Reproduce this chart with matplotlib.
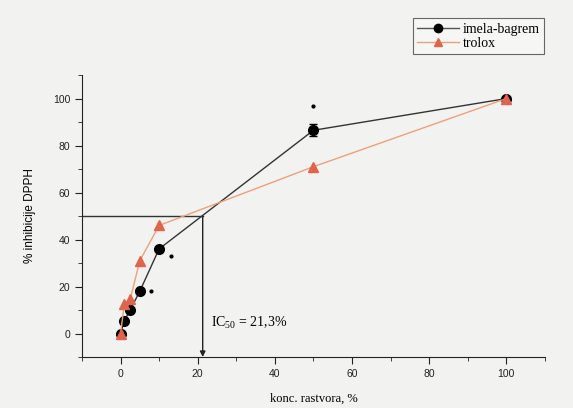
import matplotlib.pyplot as plt
from matplotlib.ticker import MultipleLocator
from matplotlib.lines import Line2D

# data
conc = [0, 1, 2.5, 5, 10, 50, 100]
imela = [0, 5.5, 10, 18, 36, 86.5, 100]
imela_err = [0, 0, 0, 0, 0, 2.5, 0]
trolox = [0, 12.5, 14.5, 31, 46, 71, 100]
ic50 = 21.3
star_x = [8, 13, 50]
star_y = [18, 33, 97]

plt.rcParams['font.family'] = ['Liberation Sans', 'DejaVu Sans']
plt.rcParams['mathtext.fontset'] = 'custom'
plt.rcParams['mathtext.rm'] = 'Liberation Serif'
plt.rcParams['mathtext.it'] = 'Liberation Serif:italic'
serif = 'Liberation Serif'

fig = plt.figure(figsize=(5.73, 4.08), dpi=100)
fig.patch.set_facecolor('#f2f2f0')
ax = fig.add_axes([0.143, 0.125, 0.808, 0.691])
ax.set_facecolor('#f2f2f0')

ax.errorbar(conc, imela, yerr=imela_err, color='#333333', lw=1.0, marker='o', ms=7,
            mfc='black', mec='black', ecolor='black', capsize=3, elinewidth=0.8,
            zorder=3)
ax.plot(conc, trolox, color='#eba27a', lw=1.0, marker='^', ms=7,
        mfc='#e0644c', mec='#e0644c', zorder=4)

ax.plot(star_x, star_y, 'k.', ms=4)

# IC50 guide lines
ax.plot([-10, ic50], [50, 50], color='#333333', lw=1.0, zorder=2)
ax.annotate('', xy=(ic50, -10), xytext=(ic50, 50),
            arrowprops=dict(arrowstyle='-|>', color='#222222', lw=1.0,
                            mutation_scale=8, shrinkA=0, shrinkB=0))
ax.text(23.5, 4.5, r'IC$_{\mathrm{50}}$ = 21,3%', family=serif, fontsize=10, va='center')

ax.set_xlim(-10, 110)
ax.set_ylim(-10, 110)
ax.xaxis.set_minor_locator(MultipleLocator(10))
ax.yaxis.set_minor_locator(MultipleLocator(10))
ax.set_xticks([0, 20, 40, 60, 80, 100])
ax.set_yticks([0, 20, 40, 60, 80, 100])
ax.tick_params(which='both', direction='out', labelsize=7.5, colors='#222222')
ax.tick_params(which='major', length=5)
ax.tick_params(which='minor', length=3)
for s in ['top', 'right']:
    ax.spines[s].set_visible(False)
for s in ['left', 'bottom']:
    ax.spines[s].set_color('#222222')

ax.set_xlabel('konc. rastvora, %', family=serif, fontsize=9, labelpad=10)
ax.set_ylabel('% inhibicije DPPH', fontsize=8.5, labelpad=12)

handles = [Line2D([], [], color='#555555', lw=1.0, marker='o', ms=6, mfc='black', mec='black'),
           Line2D([], [], color='#eba27a', lw=1.0, marker='^', ms=6, mfc='#e0644c', mec='#e0644c')]
leg = fig.legend(handles, ['imela-bagrem', 'trolox'], loc='upper right',
                 bbox_to_anchor=(0.962, 0.972),
                 prop={'family': serif, 'size': 10}, frameon=True, fancybox=False,
                 edgecolor='#444444', handlelength=3.0, labelspacing=0.1,
                 borderpad=0.3, handletextpad=0.3)
leg.get_frame().set_facecolor('#f8f8f6')
leg.get_frame().set_linewidth(0.8)

fig.savefig('out.png', dpi=100, facecolor=fig.get_facecolor())
